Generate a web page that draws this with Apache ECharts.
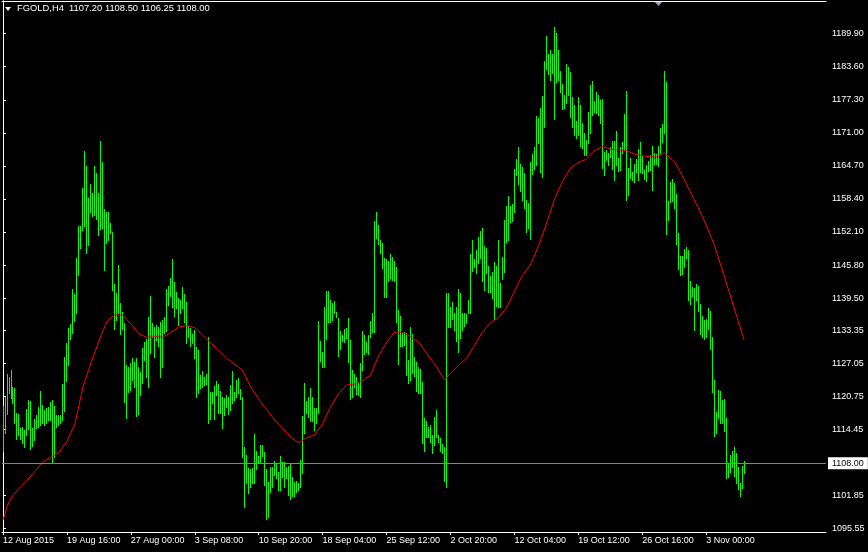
<!DOCTYPE html>
<html><head><meta charset="utf-8">
<script src="https://cdn.jsdelivr.net/npm/echarts@6/dist/echarts.min.js"></script>
<style>html,body{margin:0;padding:0;background:#000;} #c{width:868px;height:552px;}</style>
</head><body><div id="c"></div>
<script>
const headerText = 'FGOLD,H4  1107.20 1108.50 1106.25 1108.00';
const lastClose = 1108.00;

const highs = [
1118.93,1120.70,1125.03,1124.51,1125.79,1122.61,1122.36,1117.59,1117.40,1114.73,
1114.98,1114.35,1118.36,1120.07,1119.94,1114.73,1116.51,1117.21,1118.79,1121.79,
1119.12,1118.17,1118.55,1118.79,1119.75,1120.07,1118.93,1117.21,1117.21,1117.21,
1123.12,1128.33,1130.99,1133.85,1134.56,1141.29,1140.28,1147.08,1153.24,1153.24,
1160.43,1167.54,1164.68,1158.52,1161.19,1159.47,1164.68,1163.29,1159.47,1169.44,
1165.38,1156.48,1155.85,1155.97,1153.75,1152.15,1142.18,1140.53,1145.81,1138.50,
1136.90,1134.81,1126.74,1126.42,1127.07,1128.02,1127.37,1128.14,1126.42,1125.47,
1129.93,1131.18,1131.64,1135.95,1139.90,1134.69,1133.93,1134.37,1134.04,1135.00,
1135.32,1135.95,1141.17,1141.80,1143.38,1146.95,1142.62,1140.72,1139.57,1139.13,
1141.55,1140.28,1138.81,1134.18,1133.74,1132.65,1133.42,1130.23,1129.60,1124.84,
1125.60,1124.51,1125.03,1132.14,1121.65,1121.65,1122.74,1123.75,1123.12,1121.84,
1120.70,1120.40,1121.03,1120.59,1122.93,1125.60,1121.65,1123.88,1124.32,1122.11,
1120.70,1111.17,1109.59,1107.05,1106.86,1107.17,1113.59,1110.41,1109.40,1111.44,
1111.44,1110.22,1106.86,1104.50,1107.36,1107.36,1108.44,1108.01,1106.40,1109.40,
1108.31,1108.31,1107.36,1107.49,1107.87,1105.45,1104.50,1104.63,1104.19,1108.63,
1117.02,1123.37,1119.82,1120.70,1122.30,1120.70,1118.60,1118.49,1135.19,1131.32,
1129.28,1137.86,1140.91,1140.91,1139.13,1138.50,1138.94,1136.90,1135.70,1133.22,
1132.46,1133.66,1133.85,1135.76,1131.51,1125.79,1125.03,1124.51,1123.56,1127.18,
1133.22,1132.46,1131.18,1132.46,1135.19,1136.60,1154.19,1155.85,1153.43,1150.57,
1149.94,1147.20,1146.95,1146.57,1147.90,1147.39,1146.57,1145.48,1137.23,1136.08,
1132.90,1133.09,1132.79,1127.70,1134.04,1132.65,1128.32,1127.37,1126.42,1125.98,
1123.56,1116.58,1116.13,1114.98,1115.31,1113.40,1116.89,1118.17,1113.40,1112.89,
1111.63,1111.06,1140.41,1140.41,1137.74,1138.81,1136.71,1137.74,1141.17,1140.53,
1136.60,1136.71,1136.47,1139.13,1147.90,1150.57,1146.89,1148.66,1151.20,1152.29,
1152.92,1149.43,1148.99,1145.67,1143.71,1144.53,1146.32,1145.67,1150.57,1142.32,
1147.27,1154.38,1157.05,1158.96,1157.05,1157.38,1164.05,1165.95,1168.36,1165.06,
1164.54,1163.29,1158.20,1157.68,1165.50,1166.96,1168.36,1174.21,1173.88,1175.68,
1178.02,1184.75,1189.46,1186.03,1186.79,1185.97,1191.12,1190.09,1186.79,1182.84,
1180.25,1178.21,1184.12,1183.61,1182.65,1177.77,1176.30,1173.31,1177.89,1176.30,
1172.82,1171.02,1169.63,1175.03,1180.12,1180.88,1177.12,1178.84,1178.21,1177.26,
1177.45,1167.40,1167.73,1167.21,1168.36,1169.44,1169.44,1171.35,1166.15,1168.36,
1169.31,1174.59,1178.97,1164.24,1166.15,1163.59,1165.06,1166.01,1167.92,1169.31,
1166.64,1163.91,1164.87,1165.69,1166.77,1168.49,1167.10,1166.96,1168.49,1171.86,
1172.68,1182.79,1180.75,1158.01,1161.68,1162.20,1161.38,1159.34,1151.85,1147.52,
1147.52,1148.80,1149.29,1148.66,1142.76,1141.67,1141.48,1142.18,1141.80,1138.37,
1136.08,1135.32,1135.51,1137.67,1137.04,1132.02,1123.88,1117.84,1121.98,1121.79,
1120.07,1120.26,1116.70,1107.81,1109.59,1110.41,1111.17,1109.91,1107.36,1104.19,
1107.49,1108.50];

const lows = [
1110.41,1113.84,1117.40,1121.35,1120.45,1119.56,1115.69,1112.64,1113.40,1112.64,
1111.88,1111.17,1113.40,1114.54,1110.73,1111.30,1112.45,1114.73,1114.98,1115.31,
1115.69,1115.31,1115.69,1116.26,1116.26,1108.31,1109.26,1114.98,1115.31,1115.69,
1116.26,1118.03,1123.75,1126.74,1131.64,1132.79,1135.19,1136.71,1143.90,1148.99,
1152.48,1153.24,1148.15,1149.62,1155.97,1155.15,1155.34,1154.52,1151.52,1152.61,
1152.80,1144.85,1150.06,1150.57,1151.85,1141.04,1133.55,1135.32,1136.71,1132.65,
1133.55,1119.75,1116.58,1121.65,1121.98,1123.88,1122.61,1117.02,1117.40,1121.03,
1123.25,1127.70,1124.40,1122.61,1128.97,1132.14,1128.21,1131.51,1130.37,1124.51,
1126.42,1132.79,1133.28,1138.18,1139.90,1137.86,1136.08,1137.55,1134.37,1136.60,
1137.55,1135.00,1130.99,1132.14,1130.37,1130.99,1128.02,1120.70,1121.35,1122.30,
1122.61,1122.93,1123.12,1115.63,1116.45,1119.44,1116.45,1121.03,1117.65,1117.54,
1114.79,1117.21,1118.79,1117.35,1118.17,1119.44,1120.07,1120.70,1121.35,1120.21,
1109.26,1099.73,1104.31,1102.40,1103.55,1104.31,1104.31,1106.86,1108.01,1108.01,
1109.40,1103.87,1097.33,1097.71,1102.59,1103.43,1105.78,1105.15,1102.92,1102.92,
1105.45,1103.43,1105.15,1101.96,1101.14,1101.83,1101.83,1102.59,1102.92,1103.43,
1106.10,1113.72,1117.54,1116.77,1116.07,1116.07,1114.35,1115.63,1117.54,1127.51,
1126.42,1126.42,1131.64,1135.00,1135.00,1135.32,1136.60,1135.84,1128.46,1129.74,
1131.32,1131.19,1131.95,1127.37,1120.21,1120.70,1122.61,1121.16,1121.03,1120.70,
1125.79,1128.84,1129.28,1128.84,1132.02,1133.09,1133.09,1150.90,1149.75,1148.15,
1145.29,1139.76,1139.76,1142.76,1143.27,1142.95,1142.81,1135.00,1126.93,1130.37,
1130.37,1130.56,1124.84,1123.25,1123.88,1125.16,1124.65,1121.84,1121.35,1121.35,
1111.82,1110.35,1112.96,1112.96,1112.12,1110.03,1111.49,1113.08,1112.12,1110.41,
1109.91,1104.69,1103.43,1134.04,1133.93,1135.45,1133.42,1131.38,1129.28,1131.83,
1133.42,1134.18,1134.69,1136.60,1136.60,1144.66,1145.48,1144.22,1146.13,1147.08,
1142.76,1141.04,1144.34,1140.72,1140.72,1139.46,1135.51,1137.99,1137.86,1137.74,
1143.05,1144.53,1150.25,1150.57,1153.95,1154.25,1155.97,1162.96,1161.25,1159.97,
1158.20,1156.61,1152.15,1152.80,1150.76,1163.15,1164.11,1164.87,1169.12,1163.59,
1162.64,1172.05,1183.11,1182.21,1181.07,1182.35,1173.64,1180.75,1181.07,1178.84,
1175.49,1175.79,1176.63,1178.21,1173.96,1172.05,1170.59,1169.96,1170.59,1168.49,
1168.05,1166.77,1166.77,1169.00,1170.91,1174.40,1175.03,1174.84,1174.40,1172.82,
1164.35,1162.96,1165.82,1164.87,1166.45,1164.05,1162.01,1164.87,1163.78,1163.91,
1167.21,1167.73,1158.20,1159.15,1162.33,1162.01,1161.68,1163.59,1162.01,1163.59,
1163.29,1162.20,1161.87,1163.72,1163.91,1160.10,1165.00,1165.06,1164.68,1167.21,
1169.31,1171.02,1151.71,1154.38,1157.87,1158.06,1156.73,1149.81,1145.04,1143.90,
1144.03,1145.37,1147.20,1139.13,1138.37,1139.90,1133.42,1139.13,1137.09,1132.65,
1132.14,1131.70,1132.02,1133.55,1129.79,1121.65,1113.21,1113.84,1116.58,1115.75,
1115.75,1114.22,1105.26,1105.45,1106.40,1107.24,1105.64,1104.31,1103.11,1101.83,
1103.24,1106.25];

const maIdx = [0,2,4,8,12,16,20,24,28,32,36,40,44,48,52,56,60,64,68,72,76,80,84,88,92,96,100,104,108,112,116,120,124,128,132,136,140,144,148,152,156,160,164,168,172,176,180,184,188,192,196,200,204,208,212,216,220,221,224,228,232,236,240,244,248,252,256,260,264,268,272,276,280,284,288,292,296,300,304,308,312,316,320,324,328,331,332,336,340,344,348,352,356,360,364,368,371];
const maVal = [1097.20,1099.73,1101.39,1103.20,1104.77,1106.48,1108.20,1109.21,1110.06,1112.16,1115.50,1122.55,1127.13,1131.32,1135.04,1136.33,1136.22,1134.56,1132.71,1132.02,1132.16,1132.04,1132.94,1134.02,1134.23,1133.87,1132.40,1130.94,1129.53,1128.02,1126.88,1125.70,1122.55,1120.26,1118.26,1116.26,1114.64,1113.08,1111.88,1112.87,1113.44,1115.50,1118.80,1121.27,1122.93,1123.12,1123.77,1124.84,1128.46,1131.05,1133.03,1132.94,1132.14,1131.13,1129.03,1126.93,1124.55,1123.88,1125.16,1126.69,1128.00,1130.50,1132.98,1134.81,1135.76,1137.61,1140.75,1143.84,1145.81,1149.37,1153.62,1158.27,1161.72,1164.24,1165.34,1165.95,1167.54,1168.41,1167.92,1167.73,1167.63,1166.96,1166.62,1166.43,1166.45,1167.21,1166.87,1165.53,1162.87,1159.78,1156.77,1153.43,1149.71,1144.99,1140.09,1135.19,1131.51];

const xTickLabels = ['12 Aug 2015','19 Aug 16:00','27 Aug 00:00','3 Sep 08:00','10 Sep 20:00','18 Sep 04:00','25 Sep 12:00','2 Oct 20:00','12 Oct 04:00','19 Oct 12:00','26 Oct 16:00','3 Nov 00:00'];
const xTickStep = 32;
const yTickLabels = ['1095.55','1101.85','1114.45','1120.75','1127.05','1133.35','1139.50','1145.80','1152.10','1158.40','1164.70','1171.00','1177.30','1183.60','1189.90'];

const FONT = 'Tahoma, "Liberation Sans", sans-serif';
const barData = highs.map((h, i) => [i, h, lows[i]]);
const maData = maIdx.map((k, j) => [k, maVal[j]]);
const xTickValues = xTickLabels.map((_, k) => k * xTickStep);
const yTickValues = yTickLabels.map(Number);

const X_MIN = -0.5, X_MAX = 412, Y_MIN = 1094.91, Y_MAX = 1196.13;

const chart = echarts.init(document.getElementById('c'), null, {renderer: 'canvas'});
chart.setOption({
  animation: false,
  backgroundColor: '#000',
  title: {
    text: headerText, left: 17, top: 4, padding: 0,
    textStyle: {color: '#fff', fontSize: 9.4, fontWeight: 'normal', fontFamily: FONT}
  },
  graphic: [
    {type: 'polygon', shape: {points: [[5, 7], [11, 7], [8, 11]]}, style: {fill: '#fff'}},
    {type: 'polygon', shape: {points: [[654, 1], [663, 1], [658.5, 6]]}, style: {fill: '#9aa3ad'}}
  ],
  grid: {left: 1, top: 1, right: 42, bottom: 20, show: false},
  xAxis: [{
    type: 'value', min: X_MIN, max: X_MAX, position: 'bottom',
    splitLine: {show: false},
    axisLine: {show: true, lineStyle: {color: '#fff', width: 1}},
    axisTick: {show: true, length: 3, customValues: xTickValues, lineStyle: {color: '#fff'}},
    axisLabel: {
      customValues: xTickValues, color: '#fff', fontSize: 9, fontFamily: FONT,
      align: 'left', margin: 4,
      formatter: v => xTickLabels[Math.round(v / xTickStep)] || ''
    }
  }, {
    type: 'value', min: X_MIN, max: X_MAX, position: 'top',
    splitLine: {show: false}, axisTick: {show: false}, axisLabel: {show: false},
    axisLine: {show: true, lineStyle: {color: '#fff', width: 1}}
  }],
  yAxis: [{
    type: 'value', min: Y_MIN, max: Y_MAX, position: 'right',
    splitLine: {show: false},
    axisLine: {show: true, lineStyle: {color: '#fff', width: 1}},
    axisTick: {show: true, length: 3, customValues: yTickValues, lineStyle: {color: '#fff'}},
    axisLabel: {
      customValues: yTickValues, color: '#fff', fontSize: 9, fontFamily: FONT, margin: 6,
      formatter: v => { const k = yTickValues.indexOf(v); return k >= 0 ? yTickLabels[k] : ''; }
    }
  }, {
    type: 'value', min: Y_MIN, max: Y_MAX, position: 'left',
    splitLine: {show: false}, axisTick: {show: false}, axisLabel: {show: false},
    axisLine: {show: true, lineStyle: {color: '#fff', width: 1}}
  }],
  series: [{
    type: 'line', data: [], z: 1, silent: true,
    markLine: {
      silent: true, symbol: ['none', 'none'], animation: false,
      data: [{yAxis: lastClose}],
      lineStyle: {color: '#778899', type: 'solid', width: 1},
      label: {
        show: true, position: 'end', distance: 2,
        formatter: () => lastClose.toFixed(2),
        color: '#000', backgroundColor: '#fff', padding: [2, 4, 1, 4],
        fontSize: 9, fontFamily: FONT
      }
    }
  }, {
    type: 'custom', z: 2, clip: true, silent: true,
    data: barData,
    encode: {x: 0, y: [1, 2]},
    renderItem: (params, api) => {
      const i = api.value(0);
      const hi = api.coord([i, api.value(1)]);
      const lo = api.coord([i, api.value(2)]);
      const x = Math.floor(hi[0] + 0.01) + 0.5;
      return {type: 'line', shape: {x1: x, y1: Math.round(hi[1]), x2: x, y2: Math.round(lo[1]) + 1},
              style: {stroke: '#00ff00', lineWidth: 1}};
    }
  }, {
    type: 'line', z: 3, silent: true, data: maData,
    showSymbol: false, symbol: 'none',
    lineStyle: {color: '#ff0000', width: 1}
  }]
});
</script></body></html>
